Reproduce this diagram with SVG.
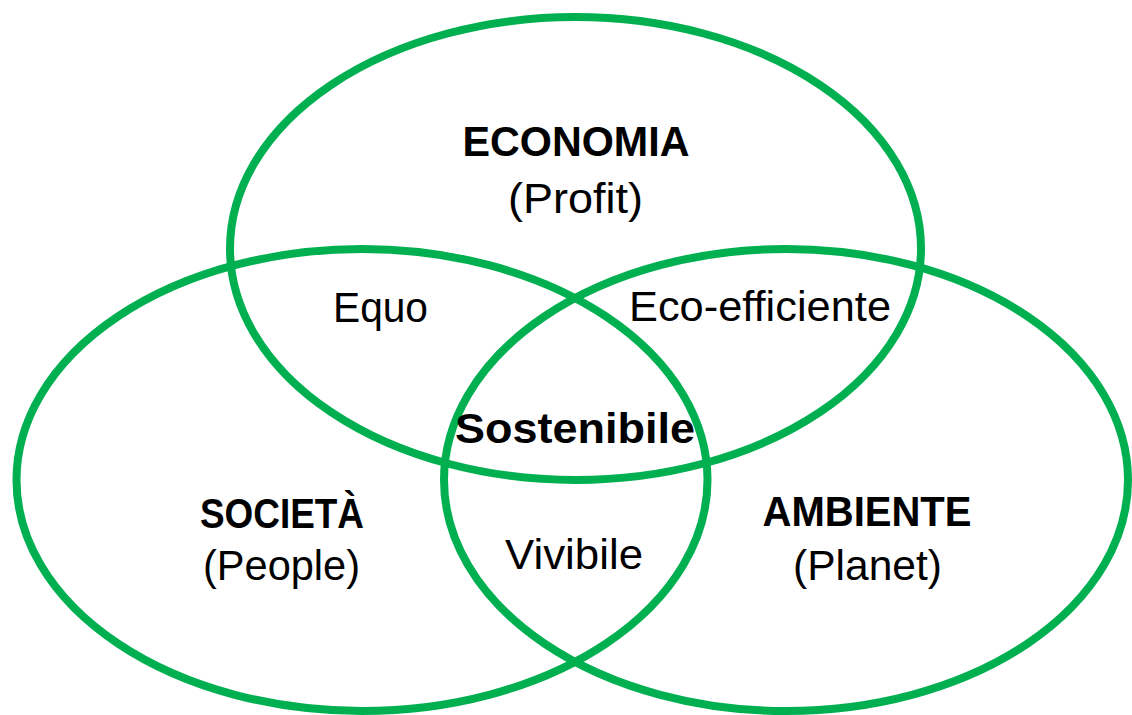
<svg xmlns="http://www.w3.org/2000/svg" width="1132" height="715" viewBox="0 0 1132 715">
  <style>
    .ring { fill: none; stroke: #00B050; stroke-width: 8; }
    .lbl { font-family: "Liberation Sans", Arial, sans-serif; font-size: 42px; fill: #000; text-anchor: middle; }
    .b { font-weight: bold; }
  </style>
  <rect width="1132" height="715" fill="#fff"/>
  <g id="connectors"/>
  <g id="economia">
    <ellipse class="ring" cx="575.5" cy="248.5" rx="345.5" ry="231.5"/>
    <text class="lbl b" x="576" y="156" textLength="227" lengthAdjust="spacingAndGlyphs">ECONOMIA</text>
    <text class="lbl" x="575.5" y="213" textLength="135" lengthAdjust="spacingAndGlyphs">(Profit)</text>
  </g>
  <g id="societa">
    <ellipse class="ring" cx="362" cy="480" rx="345.5" ry="231"/>
    <text class="lbl b" x="282" y="528" textLength="164" lengthAdjust="spacingAndGlyphs">SOCIETÀ</text>
    <text class="lbl" x="281.5" y="580" textLength="157" lengthAdjust="spacingAndGlyphs">(People)</text>
  </g>
  <g id="ambiente">
    <ellipse class="ring" cx="786" cy="480" rx="342" ry="231"/>
    <text class="lbl b" x="867" y="526" textLength="209" lengthAdjust="spacingAndGlyphs">AMBIENTE</text>
    <text class="lbl" x="867.5" y="580" textLength="149" lengthAdjust="spacingAndGlyphs">(Planet)</text>
  </g>
  <g id="equo">
    <text class="lbl" x="380.5" y="322" textLength="95" lengthAdjust="spacingAndGlyphs">Equo</text>
  </g>
  <g id="eco-efficiente">
    <text class="lbl" x="760" y="321" textLength="262" lengthAdjust="spacingAndGlyphs">Eco-efficiente</text>
  </g>
  <g id="vivibile">
    <text class="lbl" x="574" y="569" textLength="138" lengthAdjust="spacingAndGlyphs">Vivibile</text>
  </g>
  <g id="sostenibile">
    <text class="lbl b" x="575" y="443" textLength="240" lengthAdjust="spacingAndGlyphs">Sostenibile</text>
  </g>
</svg>
